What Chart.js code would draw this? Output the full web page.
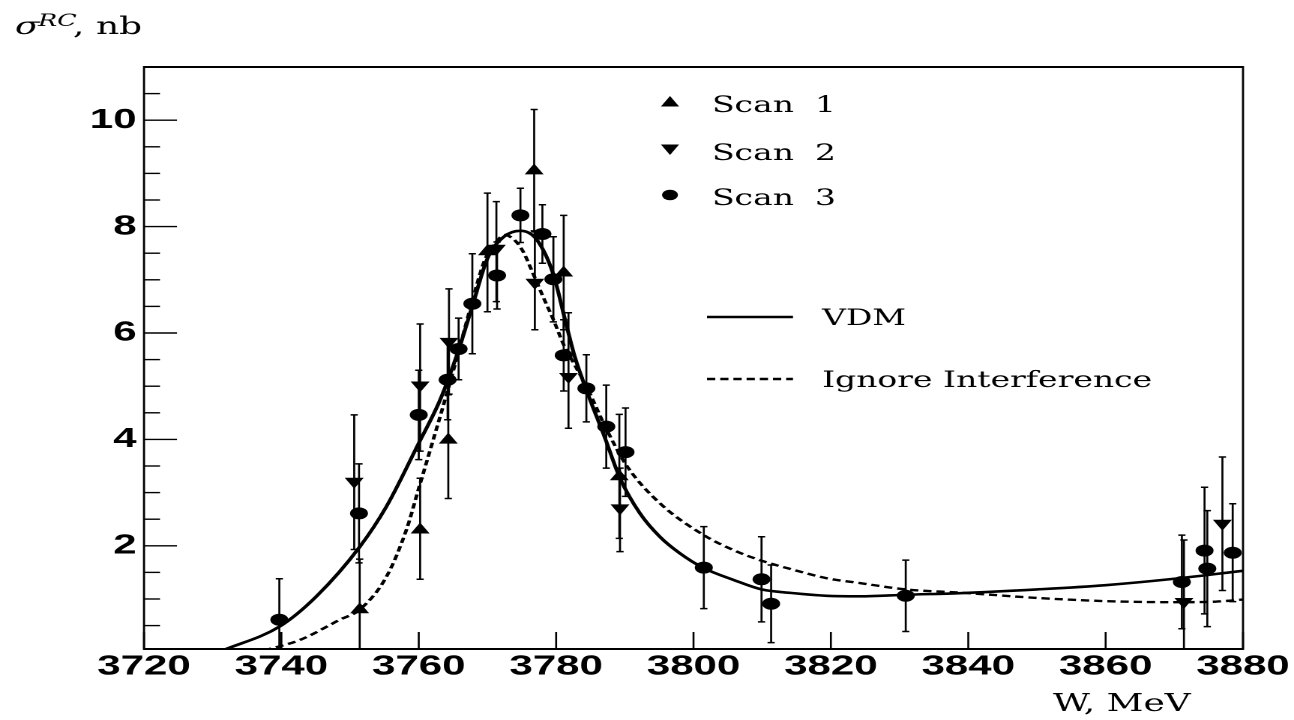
<!DOCTYPE html>
<html>
<head>
<meta charset="utf-8">
<title>sigma RC vs W</title>
<script src="https://cdn.jsdelivr.net/npm/chart.js@4.4.1/dist/chart.umd.min.js"></script>
<style>
  html, body { margin: 0; padding: 0; background: #fff; overflow: hidden; }
  #wrap { position: absolute; left: 0; top: 0; width: 863px; height: 720px; transform-origin: 0 0; }
</style>
</head>
<body>
<div id="wrap"><canvas id="myChart" width="863" height="720"></canvas></div>
<script>
// ejes
const xTicks = [3720, 3740, 3760, 3780, 3800, 3820, 3840, 3860, 3880];
const yTicks = [2, 4, 6, 8, 10];

// Scan 1 (triangulos hacia arriba)
const scan1W = [3751.4, 3760.2, 3764.3, 3770.0, 3776.8, 3781.1, 3789.2];
const scan1Sigma = [0.80, 2.30, 3.99, 7.53, 9.05, 7.13, 3.30];
const scan1ErrUp = [0.95, 0.97, 0.85, 1.10, 1.15, 1.08, 1.17];
const scan1ErrDown = [0.95, 0.93, 1.10, 1.13, 1.13, 1.07, 1.16];

// Scan 2 (triangulos hacia abajo)
const scan2W = [3750.6, 3760.2, 3764.4, 3771.3, 3776.9, 3781.8, 3789.3, 3871.4, 3877.0];
const scan2Sigma = [3.21, 5.02, 5.84, 7.59, 6.95, 5.18, 2.71, 0.95, 2.42];
const scan2ErrUp = [1.25, 1.15, 0.99, 0.88, 0.95, 1.20, 0.75, 1.16, 1.25];
const scan2ErrDown = [1.28, 1.24, 0.99, 1.00, 0.89, 0.97, 0.82, 1.16, 1.26];

// Scan 3 (circulos)
const scan3W = [3739.7, 3751.3, 3760.0, 3764.2, 3765.8, 3767.8, 3771.4, 3774.8, 3778.0, 3779.6, 3781.1,
                3784.4, 3787.3, 3790.1, 3801.5, 3809.9, 3811.3, 3830.9, 3871.1, 3874.4, 3874.8, 3878.5];
const scan3Sigma = [0.61, 2.61, 4.46, 5.12, 5.70, 6.55, 7.08, 8.21, 7.86, 7.01, 5.58,
                    4.96, 4.24, 3.76, 1.59, 1.37, 0.91, 1.06, 1.32, 1.91, 1.57, 1.87];
const scan3Err = [0.77, 0.93, 0.84, 0.75, 0.58, 0.94, 0.63, 0.51, 0.55, 0.80, 0.67,
                  0.63, 0.78, 0.83, 0.77, 0.80, 0.73, 0.67, 0.88, 1.19, 1.09, 0.92];

// curva VDM (linea continua)
const vdmW = [3731.4, 3739.7, 3745.1, 3751.4, 3755.3, 3760.0, 3763.1, 3765.8, 3767.9, 3770.0, 3772.3,
              3774.8, 3777.2, 3779.6, 3781.3, 3782.7, 3784.4, 3787.1, 3789.3, 3792.2, 3795.1, 3798.0,
              3801.5, 3805.8, 3809.9, 3814.5, 3819.4, 3824.2, 3830.9, 3838.8, 3850, 3860, 3870, 3880];
const vdmSigma = [0.03, 0.48, 1.05, 1.98, 2.74, 3.93, 4.74, 5.68, 6.55, 7.40, 7.80,
                  7.92, 7.75, 7.10, 6.25, 5.56, 4.93, 4.03, 3.27, 2.61, 2.17, 1.86,
                  1.58, 1.36, 1.18, 1.11, 1.06, 1.05, 1.08, 1.11, 1.18, 1.26, 1.38, 1.53];

// curva sin interferencia (linea de trazos)
const ignW = [3737.4, 3742.7, 3748.5, 3751.4, 3755.3, 3758.2, 3760.0, 3762.1, 3764.1, 3765.8, 3767.9,
              3769.6, 3771.2, 3772.5, 3774.0, 3775.2, 3776.4, 3778.1, 3779.6, 3781.1, 3782.7, 3784.4,
              3787.3, 3790.3, 3795.1, 3801.5, 3805.8, 3809.9, 3814.5, 3819.4, 3824.2, 3830.9, 3838.8,
              3850, 3860, 3870, 3876, 3880];
const ignSigma = [0.03, 0.23, 0.61, 0.80, 1.42, 2.30, 3.08, 3.99, 4.87, 5.65, 6.65,
                  7.37, 7.70, 7.84, 7.74, 7.53, 7.19, 6.68, 6.25, 5.78, 5.40, 5.00,
                  4.20, 3.50, 2.80, 2.20, 1.92, 1.72, 1.55, 1.39, 1.30, 1.18, 1.12,
                  1.02, 0.96, 0.94, 0.95, 0.99];

// la figura original esta estirada en horizontal: se dibuja en 863 px y se estira a 1294
const ANCHO = 863, ALTO = 720;
const k = 1294 / ANCHO;
document.getElementById('wrap').style.transform = 'scaleX(' + k + ')';
const px = x => x / k;

const SERIF = '"DejaVu Serif", "Liberation Serif", serif';
const SANS = '"Liberation Sans", Arial, sans-serif';

function puntos(ws, vs) {
    return ws.map((w, i) => ({x: w, y: vs[i]}));
}

// barras de error, por debajo de los marcadores
const errorBars = {
    id: 'errorBars',
    beforeDatasetsDraw(chart) {
        const {ctx, chartArea: a, scales: {x, y}} = chart;
        ctx.save();
        ctx.beginPath();
        ctx.rect(a.left, a.top, a.right - a.left, a.bottom - a.top);
        ctx.clip();
        ctx.strokeStyle = '#000';
        chart.data.datasets.forEach(ds => {
            if (!ds.errUp) return;
            ds.data.forEach((p, i) => {
                const xp = x.getPixelForValue(p.x);
                const yHi = y.getPixelForValue(p.y + ds.errUp[i]);
                const yLo = y.getPixelForValue(p.y - ds.errDown[i]);
                ctx.lineWidth = 1.35;
                ctx.beginPath();
                ctx.moveTo(xp, yHi);
                ctx.lineTo(xp, yLo);
                ctx.stroke();
                ctx.lineWidth = 1.5;
                ctx.beginPath();
                ctx.moveTo(xp - 2.4, yHi); ctx.lineTo(xp + 2.4, yHi);
                ctx.moveTo(xp - 2.4, yLo); ctx.lineTo(xp + 2.4, yLo);
                ctx.stroke();
            });
        });
        ctx.restore();
    }
};

function marca(ctx, estilo, x, y, r) {
    ctx.beginPath();
    if (estilo === 'circle') {
        ctx.arc(x, y, r, 0, 2 * Math.PI);
    } else {
        const s = estilo === 'up' ? 1 : -1;
        ctx.moveTo(x, y - s * r);
        ctx.lineTo(x + 0.866 * r, y + s * r / 2);
        ctx.lineTo(x - 0.866 * r, y + s * r / 2);
        ctx.closePath();
    }
    ctx.fill();
}

// marco, marcas de los ejes hacia dentro, leyenda y titulos
const marco = {
    id: 'marco',
    afterDraw(chart) {
        const {ctx, chartArea: a, scales: {x, y}} = chart;
        ctx.save();
        ctx.strokeStyle = '#000';
        ctx.fillStyle = '#000';

        // marcas del eje y
        ctx.lineWidth = 1.4;
        for (let v = 0.5; v < 11; v += 0.5) {
            const yp = y.getPixelForValue(v);
            const largo = yTicks.includes(v) ? px(33) : px(16);
            ctx.beginPath();
            ctx.moveTo(a.left, yp);
            ctx.lineTo(a.left + largo, yp);
            ctx.stroke();
        }
        // marcas del eje x
        ctx.lineWidth = 1.3;
        xTicks.forEach(v => {
            const xp = x.getPixelForValue(v);
            ctx.beginPath();
            ctx.moveTo(xp, a.bottom);
            ctx.lineTo(xp, a.bottom - 17);
            ctx.stroke();
        });

        // marco
        ctx.lineWidth = 2;
        ctx.beginPath();
        ctx.moveTo(a.left, a.top); ctx.lineTo(a.right, a.top);
        ctx.moveTo(a.left, a.bottom); ctx.lineTo(a.right, a.bottom);
        ctx.stroke();
        ctx.lineWidth = 1.4;
        ctx.beginPath();
        ctx.moveTo(a.left, a.top - 1); ctx.lineTo(a.left, a.bottom + 1);
        ctx.moveTo(a.right, a.top - 1); ctx.lineTo(a.right, a.bottom + 1);
        ctx.stroke();

        // leyenda
        ctx.font = '22px ' + SERIF;
        ctx.textBaseline = 'alphabetic';
        marca(ctx, 'up', px(670), 103, 7);
        ctx.fillText('Scan  1', px(712), 112);
        marca(ctx, 'down', px(670), 148, 7);
        ctx.fillText('Scan  2', px(712), 160);
        marca(ctx, 'circle', px(670), 195, 5.3);
        ctx.fillText('Scan  3', px(712), 205);

        ctx.lineWidth = 2.6;
        ctx.beginPath();
        ctx.moveTo(px(707), 317); ctx.lineTo(px(793), 317);
        ctx.stroke();
        ctx.fillText('VDM', px(822), 325);
        ctx.setLineDash([5.5, 3.3]);
        ctx.beginPath();
        ctx.moveTo(px(707), 379); ctx.lineTo(px(793), 379);
        ctx.stroke();
        ctx.setLineDash([]);
        ctx.fillText('Ignore Interference', px(822), 387);

        // titulos de los ejes
        ctx.font = 'italic 24px ' + SERIF;
        ctx.fillText('\u03C3', px(15), 34);
        ctx.font = 'italic 17px ' + SERIF;
        ctx.fillText('RC', px(38), 26);
        ctx.font = '24px ' + SERIF;
        ctx.fillText(', nb', px(73), 34);
        ctx.fillText('W, MeV', px(1053), 711);
        ctx.restore();
    }
};

new Chart(document.getElementById('myChart'), {
    type: 'scatter',
    data: {
        datasets: [{
            label: 'Scan 1',
            data: puntos(scan1W, scan1Sigma),
            errUp: scan1ErrUp,
            errDown: scan1ErrDown,
            pointStyle: 'triangle',
            pointRadius: 7.3,
            backgroundColor: '#000',
            borderColor: '#000',
            borderWidth: 0,
            order: 0
        }, {
            label: 'Scan 2',
            data: puntos(scan2W, scan2Sigma),
            errUp: scan2ErrUp,
            errDown: scan2ErrDown,
            pointStyle: 'triangle',
            rotation: 180,
            pointRadius: 7.3,
            backgroundColor: '#000',
            borderColor: '#000',
            borderWidth: 0,
            order: 0
        }, {
            label: 'Scan 3',
            data: puntos(scan3W, scan3Sigma),
            errUp: scan3Err,
            errDown: scan3Err,
            pointStyle: 'circle',
            pointRadius: 6,
            backgroundColor: '#000',
            borderColor: '#000',
            borderWidth: 0,
            order: 0
        }, {
            label: 'VDM',
            data: puntos(vdmW, vdmSigma),
            showLine: true,
            pointRadius: 0,
            borderColor: '#000',
            borderWidth: 2.6,
            cubicInterpolationMode: 'monotone',
            order: 1
        }, {
            label: 'Ignore Interference',
            data: puntos(ignW, ignSigma),
            showLine: true,
            pointRadius: 0,
            borderColor: '#000',
            borderWidth: 2.4,
            borderDash: [5.5, 3.3],
            cubicInterpolationMode: 'monotone',
            order: 1
        }]
    },
    options: {
        responsive: false,
        animation: false,
        devicePixelRatio: 2,
        layout: { padding: { left: 0, right: ANCHO - px(1243), top: 67, bottom: 0 } },
        plugins: {
            legend: { display: false },
            tooltip: { enabled: false }
        },
        scales: {
            x: {
                type: 'linear',
                min: 3720,
                max: 3880,
                afterBuildTicks: s => { s.ticks = xTicks.map(v => ({value: v})); },
                afterFit: s => { s.height = ALTO - 649; },
                grid: { display: false, drawTicks: false },
                border: { display: false },
                ticks: {
                    autoSkip: false,
                    maxRotation: 0,
                    padding: 1,
                    color: '#000',
                    callback: v => String(v),
                    font: { family: SANS, size: 28, weight: 'bold' }
                }
            },
            y: {
                type: 'linear',
                min: 0.06,
                max: 11,
                afterBuildTicks: s => { s.ticks = yTicks.map(v => ({value: v})); },
                afterFit: s => { s.width = px(144); },
                grid: { display: false, drawTicks: false },
                border: { display: false },
                ticks: {
                    padding: 5,
                    color: '#000',
                    callback: v => String(v),
                    font: { family: SANS, size: 28, weight: 'bold' }
                }
            }
        }
    },
    plugins: [errorBars, marco]
});
</script>
</body>
</html>
